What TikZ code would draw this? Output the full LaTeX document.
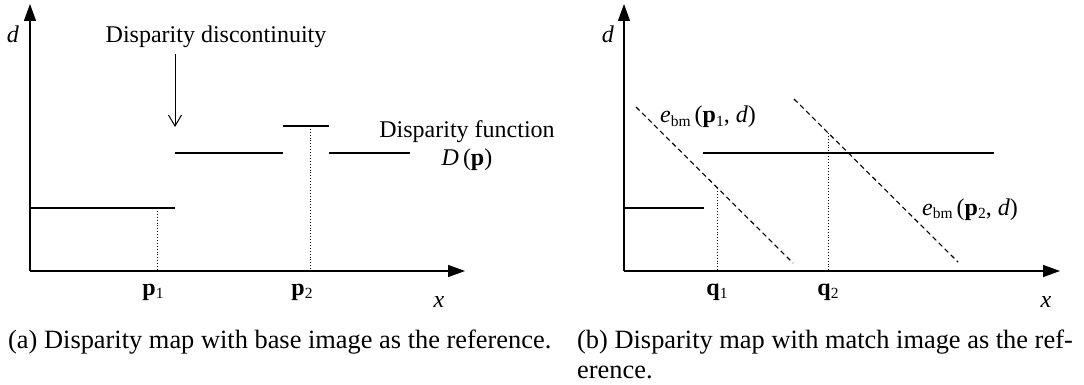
\documentclass[tikz,border=0pt]{standalone}
\usepackage{fontspec}
\setmainfont{Liberation Serif}
\usetikzlibrary{arrows.meta}
% lowered small subscript, as in the figure
\newcommand{\lo}[1]{\raisebox{-0.3ex}{\fontsize{15.5}{15.5}\selectfont #1}}

\begin{document}
\begin{tikzpicture}[x=1pt, y=-1pt,
  every node/.style={font=\fontsize{24}{28}\selectfont, inner sep=0pt},
  caption/.style={font=\fontsize{26.4}{30}\selectfont, anchor=base west, align=left},
  axisline/.style={line width=1.3pt, -{Triangle[length=17pt,width=12pt]}},
  stepline/.style={line width=1.4pt},
  guide/.style={line width=0.9pt, dotted},
  ebmline/.style={line width=1.1pt, dash pattern=on 5pt off 3.5pt}]
  \useasboundingbox (0,0) rectangle (1084,385);

  % (a) base image as the reference
  \coordinate (oa) at (30,271);
  \coordinate (ya) at (30,4);
  \coordinate (xa) at (465,271);
  \draw[axisline] (oa) -- (ya);
  \draw[axisline] (oa) -- (xa);
  \node[anchor=base] (da) at (13,43) {\textit{d}};
  \node[anchor=base] (xla) at (439,307) {\textit{x}};

  \coordinate (s1) at (30,208);  \coordinate (s2) at (175,208);
  \coordinate (s3) at (175,153); \coordinate (s4) at (283,153);
  \coordinate (s5) at (283,126); \coordinate (s6) at (329,126);
  \coordinate (s7) at (329,153); \coordinate (s8) at (410,153);
  \draw[stepline] (s1) -- (s2);
  \draw[stepline] (s3) -- (s4);
  \draw[stepline] (s5) -- (s6);
  \draw[stepline] (s7) -- (s8);

  \coordinate (p1top) at (157,208); \coordinate (p1bot) at (157,271);
  \coordinate (p2top) at (310,126); \coordinate (p2bot) at (310,271);
  \draw[guide] (p1top) -- (p1bot);
  \draw[guide] (p2top) -- (p2bot);
  \node[anchor=base] (p1) at (153,295) {\textbf{p}\lo{1}};
  \node[anchor=base] (p2) at (302,295) {\textbf{p}\lo{2}};

  \node[anchor=base] (disc) at (216,43) {Disparity discontinuity};
  \coordinate (jump) at (175,127);
  \draw[line width=1pt, -{Straight Barb[length=11pt,width=13pt]}] (175,54) -- (jump);
  \node[anchor=base, align=center] (dfun) at (467,165) {Disparity function\\\textit{D}\,(\textbf{p})};

  % (b) match image as the reference
  \coordinate (ob) at (624,271);
  \coordinate (yb) at (624,4);
  \coordinate (xb) at (1060,271);
  \draw[axisline] (ob) -- (yb);
  \draw[axisline] (ob) -- (xb);
  \node[anchor=base] (db) at (608,43) {\textit{d}};
  \node[anchor=base] (xlb) at (1046,307) {\textit{x}};

  \coordinate (t1) at (624,208); \coordinate (t2) at (704,208);
  \coordinate (t3) at (703,153); \coordinate (t4) at (994,153);
  \draw[stepline] (t1) -- (t2);
  \draw[stepline] (t3) -- (t4);

  \coordinate (e1a) at (636,107); \coordinate (e1b) at (793,263);
  \coordinate (e2a) at (794,99);  \coordinate (e2b) at (958,262);
  \draw[ebmline] (e1a) -- (e1b);
  \draw[ebmline] (e2a) -- (e2b);

  \coordinate (q1top) at (717,188); \coordinate (q1bot) at (717,271);
  \coordinate (q2top) at (828,133); \coordinate (q2bot) at (828,271);
  \draw[guide] (q1top) -- (q1bot);
  \draw[guide] (q2top) -- (q2bot);
  \node[anchor=base] (q1) at (717,295) {\textbf{q}\lo{1}};
  \node[anchor=base] (q2) at (828,295) {\textbf{q}\lo{2}};

  \node[anchor=base] (ebm1) at (708,123) {\textit{e}\lo{bm}\,(\textbf{p}\lo{1}, \textit{d})};
  \node[anchor=base] (ebm2) at (970,215) {\textit{e}\lo{bm}\,(\textbf{p}\lo{2}, \textit{d})};

  % captions
  \node[caption] (capa) at (8,348) {(a) Disparity map with base image as the reference.};
  \node[caption] (capb) at (577,378) {(b) Disparity map with match image as the ref-\\erence.};
\end{tikzpicture}
\end{document}
